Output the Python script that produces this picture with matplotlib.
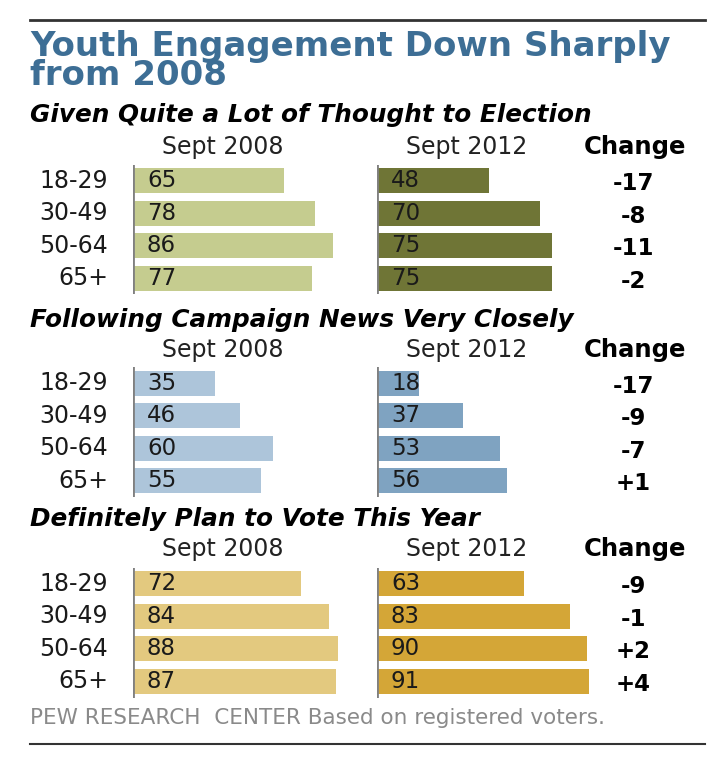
import numpy as np
import matplotlib
matplotlib.use("Agg")
import matplotlib.pyplot as plt

ages = ["18-29", "30-49", "50-64", "65+"]
titles = ["Given Quite a Lot of Thought to Election",
          "Following Campaign News Very Closely",
          "Definitely Plan to Vote This Year"]
sept_2008 = [[65, 78, 86, 77], [35, 46, 60, 55], [72, 84, 88, 87]]
sept_2012 = [[48, 70, 75, 75], [18, 37, 53, 56], [63, 83, 90, 91]]
change = [["-17", "-8", "-11", "-2"], ["-17", "-9", "-7", "+1"], ["-9", "-1", "+2", "+4"]]

light = ["#c5cc8f", "#adc5da", "#e3c97f"]
dark = ["#6f7536", "#7fa3c1", "#d4a637"]

W, H = 723, 770
fig = plt.figure(figsize=(W/100, H/100), dpi=100)

def fx(px):
    return px / W

def fy(py):
    return 1 - py / H

# rules top and bottom
fig.add_artist(plt.Line2D([fx(30), fx(705)], [fy(20), fy(20)], color="#333333", lw=2))
fig.add_artist(plt.Line2D([fx(30), fx(705)], [fy(744), fy(744)], color="#333333", lw=1.5))

fig.text(fx(30), fy(61), "Youth Engagement Down Sharply\nfrom 2008", fontsize=24.5,
         fontweight="bold", color="#3d6e95", va="center", ha="left", linespacing=0.82)

scale = 2.33
row_h = 32.5
centers = [229.5, 432, 632.5]
sub_y = [115, 320, 519]
head_y = [147, 350, 549]

for g in range(3):
    fig.text(fx(30), fy(sub_y[g]), titles[g], fontsize=17.8, fontweight="bold", style="italic",
             va="center", ha="left", color="black")
    fig.text(fx(223), fy(head_y[g]), "Sept 2008", fontsize=17, va="center", ha="center", color="#222222")
    fig.text(fx(467), fy(head_y[g]), "Sept 2012", fontsize=17, va="center", ha="center", color="#222222")
    fig.text(fx(635), fy(head_y[g]), "Change", fontsize=17.5, fontweight="bold", va="center", ha="center")

    top = centers[g] - 2 * row_h
    for x0, vals, col in [(133, sept_2008[g], light[g]), (377, sept_2012[g], dark[g])]:
        ax = fig.add_axes([fx(x0), fy(top + 4 * row_h), 100 * scale / W, 4 * row_h / H])
        y = np.arange(4)
        ax.barh(y, vals, height=0.78, color=col)
        ax.set_xlim(0, 100)
        ax.set_ylim(3.5, -0.5)
        for i, v in enumerate(vals):
            ax.text(6, i, str(v), fontsize=16.5, va="center", ha="left", color="#1a1a1a")
        ax.axis("off")
        ax.axvline(0, color="#808080", lw=2)

    for i in range(4):
        yc = top + (i + 0.5) * row_h
        fig.text(fx(108), fy(yc), ages[i], fontsize=17, va="center", ha="right", color="#1a1a1a")
        fig.text(fx(633), fy(yc + 3), change[g][i], fontsize=16.5, fontweight="bold", va="center", ha="center")

fig.text(fx(30), fy(718), "PEW RESEARCH  CENTER Based on registered voters.", fontsize=15.5,
         color="#8a8a8a", va="center", ha="left")

fig.savefig("out.png", dpi=100)
